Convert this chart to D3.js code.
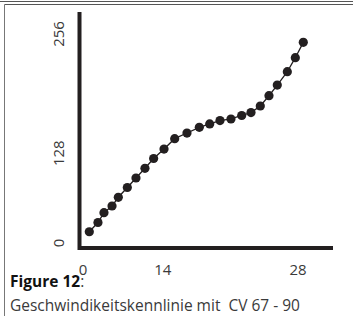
<!DOCTYPE html>
<html>
<head>
<meta charset="utf-8">
<script src="https://cdn.jsdelivr.net/npm/d3@7"></script>
<style>
	body { margin: 0; background: #fff; }
	svg { display: block; }
	text { font-family: "Open Sans", sans-serif; fill: #3a3a3a; }
</style>
</head>
<body>
<div class="viz"></div>
<script>
// speed step vs. speed value
let steps = [0.82, 1.95, 2.73, 3.78, 4.6, 5.77, 6.9, 8.07, 9.2, 10.55, 11.94, 13.54,
	15.15, 16.5, 17.84, 19.27, 20.67, 21.88, 23.09, 24.22, 25.3, 26.61, 27.65, 28.69];
let speeds = [13.8, 25.1, 37.1, 45.3, 56, 68, 79.6, 91.5, 103.5, 115.1, 127.8, 134.7,
	141.7, 145.8, 150, 151.9, 156.2, 159.8, 167.8, 180.4, 193.5, 209.8, 227, 245.8];

// tick labels and where they sit on the printed figure
let xTickLabels = ['0', '14', '28'];
let xTickAt = [0, 10.4, 28];
let yTickLabels = ['0', '128', '256'];
let yTickAt = [0, 110, 256];

let caption = 'Geschwindikeitskennlinie mit  CV 67 - 90';

let width = 353, height = 316;

let svg = d3.select('.viz').append('svg')
	.attr('width', width)
	.attr('height', height);

// frame of the page
svg.append('line').attr('x1', 0).attr('x2', width).attr('y1', 1.5).attr('y2', 1.5)
	.attr('stroke', '#555').attr('stroke-width', 1);
svg.append('line').attr('x1', 4.5).attr('x2', width).attr('y1', 4.5).attr('y2', 4.5)
	.attr('stroke', '#555').attr('stroke-width', 1);
svg.append('line').attr('x1', 4.5).attr('x2', 4.5).attr('y1', 4.5).attr('y2', height)
	.attr('stroke', '#777').attr('stroke-width', 1);

let x = d3.scaleLinear().domain([0, 28]).range([83, 298]);
let y = d3.scaleLinear().domain([0, 256]).range([243, 34]);

// axes as heavy bars
svg.append('path')
	.attr('d', 'M79.5,12V248H333')
	.attr('fill', 'none')
	.attr('stroke', '#231f20')
	.attr('stroke-width', 4);

let pts = steps.map((s, i) => [s, speeds[i]]);

svg.append('path')
	.datum(pts)
	.attr('fill', 'none')
	.attr('stroke', '#231f20')
	.attr('stroke-width', 1.3)
	.attr('d', d3.line().x(d => x(d[0])).y(d => y(d[1])));

svg.append('g').selectAll('circle')
	.data(pts)
	.enter().append('circle')
	.attr('cx', d => x(d[0]))
	.attr('cy', d => y(d[1]))
	.attr('r', 4.6)
	.attr('fill', '#231f20');

svg.append('g').selectAll('text')
	.data(xTickLabels)
	.enter().append('text')
	.attr('x', (d, i) => x(xTickAt[i]))
	.attr('y', 275)
	.attr('text-anchor', 'middle')
	.style('font-size', '15px')
	.text(d => d);

svg.append('g').selectAll('text')
	.data(yTickLabels)
	.enter().append('text')
	.attr('transform', (d, i) => 'translate(64,' + y(yTickAt[i]) + ')rotate(-90)')
	.attr('text-anchor', 'middle')
	.style('font-size', '15px')
	.text(d => d);

let fig = svg.append('text')
	.attr('x', 10)
	.attr('y', 287)
	.style('font-size', '15.5px');
fig.append('tspan').style('font-weight', 'bold').style('fill', '#111').text('Figure 12');
fig.append('tspan').text(':');

svg.append('text')
	.attr('x', 10)
	.attr('y', 311)
	.style('font-size', '15.5px')
	.attr('xml:space', 'preserve')
	.text(caption);
</script>
</body>
</html>
